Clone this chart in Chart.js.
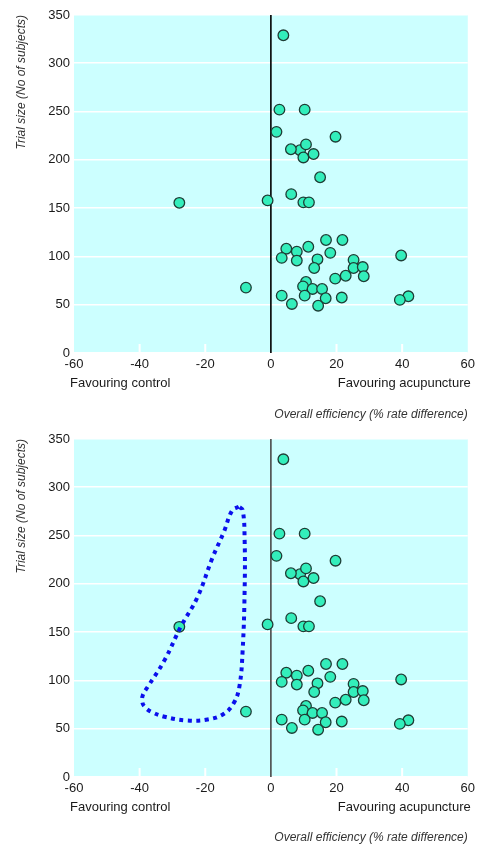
<!DOCTYPE html>
<html>
<head>
<meta charset="utf-8">
<script src="https://cdn.jsdelivr.net/npm/chart.js@4/dist/chart.umd.min.js"></script>
<style>
  body { margin: 0; background: #fff; }
  .bloc { position: relative; width: 479px; }
  canvas { display: block; }
</style>
</head>
<body>
<div class="bloc"><canvas id="graphHaut" width="479" height="422"></canvas></div>
<div class="bloc"><canvas id="graphBas" width="479" height="423"></canvas></div>
<script>
//? Données (essais : efficacité vs taille).

const valeursX = [
  8.9, 3.8, 2.6, 10.3, 1.7, 19.7, 10.7, 6.1, 9.9, 13, 15, 6.2, -1, 9.9, 11.6,
  -27.9, 16.8, 21.8, 11.4, 4.7, 7.9, 18.1, 39.7, 3.3, 14.2, 7.9, 25.2, 13.2,
  25.2, 28, 28.3, 22.8, 19.6, 10.7, 9.8, -7.6, 12.7, 15.6, 3.3, 10.3, 16.7,
  21.6, 41.9, 39.3, 6.4, 14.4,
];
const valeursY = [
  210, 329, 252, 252, 229, 224, 216, 211, 202.5, 206, 182, 164.5, 158, 156, 156,
  155.5, 117, 117, 110, 108, 105, 103.7, 101, 98.5, 97, 95.7, 96.4, 88, 88, 89,
  79.5, 80, 77, 73.6, 69, 67.7, 66.3, 66.3, 59.4, 59.4, 56.7, 57.4, 58.7, 55,
  50.8, 49,
];

//? Ligne zéro
const ligneZeroX = [0, 0];
const ligneZeroY = [0, 350];

//? Boucle pointillée (graphique du bas)
const boucleX = [
  -9.8, -11.8, -14.3, -17.8, -22.4, -27.4, -32.4, -37.5, -39.0, -39.2, -38.5,
  -36.5, -32.4, -25.4, -19.3, -14.3, -11.3, -9.6, -8.6, -8.0, -8.0, -8.6, -9.8,
];
const boucleY = [
  280, 276, 254, 227, 186, 156, 121, 93.5, 85, 78, 72.8, 67.6, 62.4, 58.5, 59.5,
  65.5, 76.6, 93.5, 131.5, 193.6, 245.4, 276.5, 280,
];

//? Axes
const ticksX = [-60, -40, -20, 0, 20, 40, 60];
const ticksY = [0, 50, 100, 150, 200, 250, 300, 350];

const texteGauche = "Favouring control";
const texteDroite = "Favouring acupuncture";
const titreX = "Overall efficiency (% rate difference)";
const titreY = "Trial size (No of subjects)";

const police = "'Liberation Sans', Arial, sans-serif";

//? -------------------------------------------------

//? Plugin fond cyan + petits traits blancs + libellés "Favouring".

const pluginDecor = {
  id: "decor",
  beforeDraw(chart) {
    const { ctx, chartArea } = chart;
    ctx.save();
    ctx.fillStyle = "#ccffff";
    ctx.fillRect(
      chartArea.left,
      chartArea.top,
      chartArea.right - chartArea.left,
      chartArea.bottom - chartArea.top
    );
    ctx.restore();
  },
  beforeDatasetsDraw(chart) {
    const { ctx, chartArea, scales } = chart;
    ctx.save();
    ctx.strokeStyle = "#ffffff";
    ctx.lineWidth = 2;
    ticksX.forEach((v) => {
      if (v === ticksX[0] || v === ticksX[ticksX.length - 1] || v === 0) return;
      const px = scales.x.getPixelForValue(v);
      ctx.beginPath();
      ctx.moveTo(px, chartArea.bottom);
      ctx.lineTo(px, chartArea.bottom - 9);
      ctx.stroke();
    });
    ctx.restore();
  },
  afterDraw(chart) {
    const { ctx, chartArea } = chart;
    ctx.save();
    ctx.fillStyle = "#1a1a1a";
    ctx.font = "13px " + police;
    ctx.textBaseline = "middle";
    ctx.textAlign = "left";
    ctx.fillText(texteGauche, chartArea.left - 4, chartArea.bottom + 30);
    ctx.textAlign = "right";
    ctx.fillText(texteDroite, chartArea.right + 3, chartArea.bottom + 30);
    ctx.restore();
  },
};

//? -------------------------------------------------

//? Construction d'un graphique.

const construireGraphique = (idCanvas, avecBoucle, couleurZero, hautPlot, hautAxeX) => {
  const ctx = document.getElementById(idCanvas).getContext("2d");

  const points = valeursX.map((x, i) => ({ x, y: valeursY[i] }));
  const ligneZero = ligneZeroX.map((x, i) => ({ x, y: ligneZeroY[i] }));
  const boucle = boucleX.map((x, i) => ({ x, y: boucleY[i] }));

  const datasets = [];
  if (avecBoucle) {
    datasets.push({
      data: boucle,
      showLine: true,
      borderColor: "#0b10ec",
      borderWidth: 4,
      borderDash: [4, 4.5],
      borderCapStyle: "butt",
      tension: 0.4,
      pointRadius: 0,
      fill: false,
    });
  }
  datasets.push({
    data: points,
    backgroundColor: "#33eebb",
    borderColor: "#1e3d35",
    borderWidth: 1.3,
    pointRadius: 5.3,
    pointHoverRadius: 5.3,
  });
  datasets.push({
    data: ligneZero,
    showLine: true,
    borderColor: couleurZero,
    borderWidth: 1.6,
    pointRadius: 0,
  });

  new Chart(ctx, {
    type: "scatter",
    data: { datasets },
    options: {
      responsive: false,
      animation: false,
      events: [],
      layout: { padding: { top: hautPlot, right: 7, left: 0, bottom: 0 } },
      plugins: { legend: { display: false }, tooltip: { enabled: false } },
      scales: {
        x: {
          type: "linear",
          min: -60,
          max: 60,
          afterFit: (s) => {
            s.height = hautAxeX;
          },
          afterBuildTicks: (s) => {
            s.ticks = ticksX.map((v) => ({ value: v }));
          },
          grid: { display: false, drawTicks: false },
          border: { display: false },
          ticks: {
            padding: 4,
            color: "#1a1a1a",
            font: { family: police, size: 13 },
            maxRotation: 0,
          },
          title: {
            display: true,
            text: titreX,
            align: "end",
            color: "#333",
            font: { family: police, size: 12, style: "italic" },
            padding: { top: 0, bottom: 0 },
          },
        },
        y: {
          type: "linear",
          min: 0,
          max: 350,
          afterFit: (s) => {
            s.width = 74;
          },
          afterBuildTicks: (s) => {
            s.ticks = ticksY.map((v) => ({ value: v }));
          },
          grid: { color: "#ffffff", lineWidth: 1.6, drawTicks: false },
          border: { display: false },
          ticks: {
            padding: 4,
            color: "#1a1a1a",
            font: { family: police, size: 13 },
          },
          title: {
            display: true,
            text: titreY,
            align: "end",
            color: "#333",
            font: { family: police, size: 12, style: "italic" },
            padding: { top: 14, bottom: 0 },
          },
        },
      },
    },
    plugins: [pluginDecor],
  });
};

//? -------------------------------------------------

//? Lancer la construction des deux graphiques.

(function construction() {
  try {
    construireGraphique("graphHaut", false, "#000000", 15, 69);
    construireGraphique("graphBas", true, "#4a4a4a", 17, 68);
  } catch (error) {
    console.error("🔴 ERROR | Construction graphique :", error);
  }
})();
</script>
</body>
</html>
